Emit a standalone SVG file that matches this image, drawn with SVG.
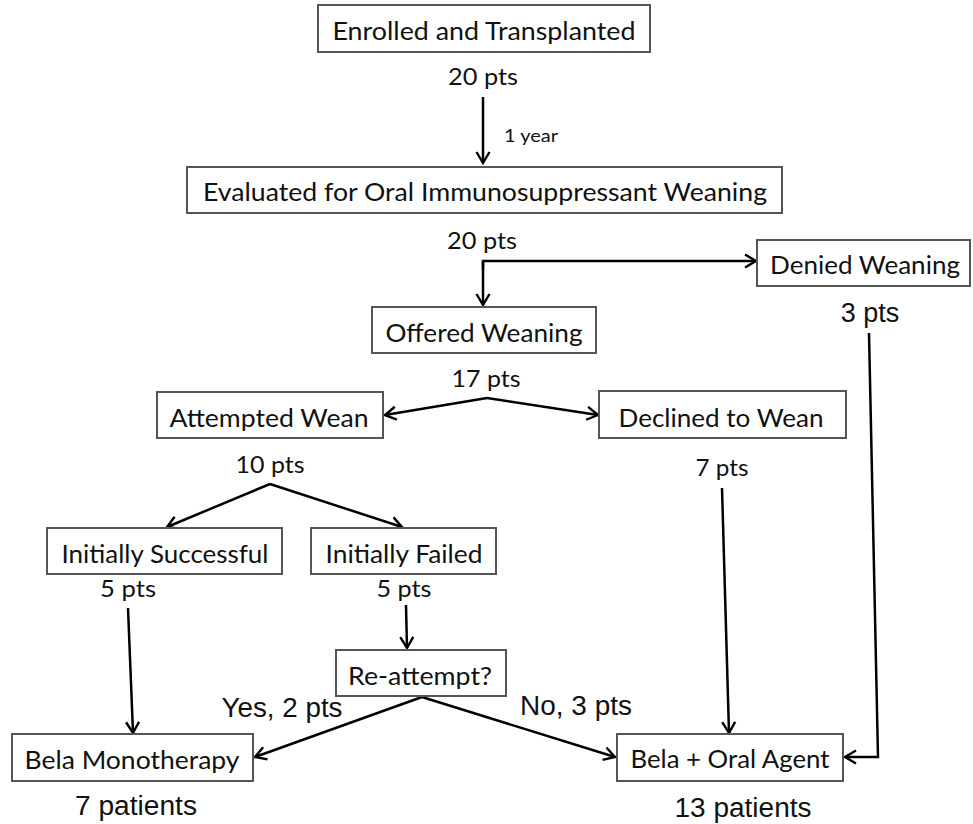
<svg xmlns="http://www.w3.org/2000/svg" width="973" height="824" viewBox="0 0 973 824">
<defs>
<marker id="ah" markerUnits="userSpaceOnUse" markerWidth="16" markerHeight="16" viewBox="-12 -8 14 16" refX="0" refY="0" orient="auto">
<path d="M-11,-6.5 L0,0 L-11,6.5" fill="none" stroke="#000" stroke-width="2.4"/>
</marker>
<style>
.box{fill:#fff;stroke:#555;stroke-width:2}
.lbl{font-family:Lato,"Open Sans","Liberation Sans",sans-serif;font-size:25px;fill:#111;text-anchor:middle}
.cnt{font-family:Lato,"Open Sans","Liberation Sans",sans-serif;font-size:24px;fill:#111;text-anchor:middle}
.ar{font-family:"Liberation Sans",Arial,sans-serif;font-size:27px;fill:#111;text-anchor:middle}
.sm{font-family:Lato,"Open Sans","Liberation Sans",sans-serif;font-size:18px;fill:#111}
.c{fill:none;stroke:#000;stroke-width:2.5}
.ca{fill:none;stroke:#000;stroke-width:2.5;marker-end:url(#ah)}
</style>
</defs>
<rect width="973" height="824" fill="#fff"/>
<g id="connectors">
<line class="ca" x1="483" y1="97" x2="483" y2="163"/>
<polyline class="ca" points="483,270 483,261 756,261"/>
<line class="ca" x1="483" y1="261" x2="483" y2="305"/>
<line class="ca" x1="487" y1="398" x2="385" y2="415"/>
<line class="ca" x1="487" y1="398" x2="598" y2="415"/>
<line class="ca" x1="270" y1="484" x2="167" y2="527"/>
<line class="ca" x1="270" y1="484" x2="402" y2="527"/>
<line class="ca" x1="128" y1="608" x2="133" y2="733"/>
<line class="ca" x1="406" y1="605" x2="407" y2="648"/>
<line class="ca" x1="422" y1="697" x2="255" y2="757"/>
<line class="ca" x1="422" y1="697" x2="615" y2="757"/>
<line class="ca" x1="722" y1="488" x2="729" y2="733"/>
<polyline class="ca" points="869,333 878,757 845,757"/>
</g>
<g id="n-enrolled">
<rect class="box" x="318" y="5" width="332" height="47"/>
<text class="lbl" x="484" y="40" textLength="303" lengthAdjust="spacingAndGlyphs">Enrolled and Transplanted</text>
</g>
<text class="cnt" x="483" y="85" textLength="70" lengthAdjust="spacingAndGlyphs">20 pts</text>
<text class="sm" x="504" y="142" textLength="54" lengthAdjust="spacingAndGlyphs">1 year</text>
<g id="n-evaluated">
<rect class="box" x="187" y="167" width="595" height="46"/>
<text class="lbl" x="485" y="201" textLength="564" lengthAdjust="spacingAndGlyphs">Evaluated for Oral Immunosuppressant Weaning</text>
</g>
<text class="cnt" x="482" y="249" textLength="70" lengthAdjust="spacingAndGlyphs">20 pts</text>
<g id="n-denied">
<rect class="box" x="757" y="240" width="213" height="46"/>
<text class="lbl" x="865" y="274" textLength="190" lengthAdjust="spacingAndGlyphs">Denied Weaning</text>
</g>
<text class="ar" x="870" y="322">3 pts</text>
<g id="n-offered">
<rect class="box" x="372" y="307" width="224" height="46"/>
<text class="lbl" x="484" y="342" textLength="197" lengthAdjust="spacingAndGlyphs">Offered Weaning</text>
</g>
<text class="cnt" x="486" y="387" textLength="69" lengthAdjust="spacingAndGlyphs">17 pts</text>
<g id="n-attempted">
<rect class="box" x="157" y="392" width="226" height="46"/>
<text class="lbl" x="269" y="427" textLength="199" lengthAdjust="spacingAndGlyphs">Attempted Wean</text>
</g>
<g id="n-declined">
<rect class="box" x="599" y="391" width="247" height="47"/>
<text class="lbl" x="721" y="427" textLength="205" lengthAdjust="spacingAndGlyphs">Declined to Wean</text>
</g>
<text class="cnt" x="270" y="473" textLength="69" lengthAdjust="spacingAndGlyphs">10 pts</text>
<text class="cnt" x="722" y="476" textLength="53" lengthAdjust="spacingAndGlyphs">7 pts</text>
<g id="n-success">
<rect class="box" x="47" y="528" width="235" height="46"/>
<text class="lbl" x="165" y="563" textLength="207" lengthAdjust="spacingAndGlyphs">Initially Successful</text>
</g>
<g id="n-failed">
<rect class="box" x="311" y="528" width="185" height="46"/>
<text class="lbl" x="404" y="563" textLength="157" lengthAdjust="spacingAndGlyphs">Initially Failed</text>
</g>
<text class="cnt" x="128" y="597" textLength="56" lengthAdjust="spacingAndGlyphs">5 pts</text>
<text class="cnt" x="404" y="597" textLength="55" lengthAdjust="spacingAndGlyphs">5 pts</text>
<g id="n-reattempt">
<rect class="box" x="336" y="650" width="170" height="46"/>
<text class="lbl" x="420" y="685" textLength="144" lengthAdjust="spacingAndGlyphs">Re-attempt?</text>
</g>
<text class="ar" x="282" y="717" textLength="121" lengthAdjust="spacingAndGlyphs">Yes, 2 pts</text>
<text class="ar" x="576" y="715" textLength="112" lengthAdjust="spacingAndGlyphs">No, 3 pts</text>
<g id="n-belamono">
<rect class="box" x="12" y="734" width="241" height="47"/>
<text class="lbl" x="132" y="769" textLength="215" lengthAdjust="spacingAndGlyphs">Bela Monotherapy</text>
</g>
<g id="n-belaoral">
<rect class="box" x="617" y="734" width="226" height="47"/>
<text class="lbl" x="730" y="768" textLength="199" lengthAdjust="spacingAndGlyphs">Bela + Oral Agent</text>
</g>
<text class="ar" x="136" y="815" textLength="122" lengthAdjust="spacingAndGlyphs">7 patients</text>
<text class="ar" x="743" y="817" textLength="137" lengthAdjust="spacingAndGlyphs">13 patients</text>
</svg>
